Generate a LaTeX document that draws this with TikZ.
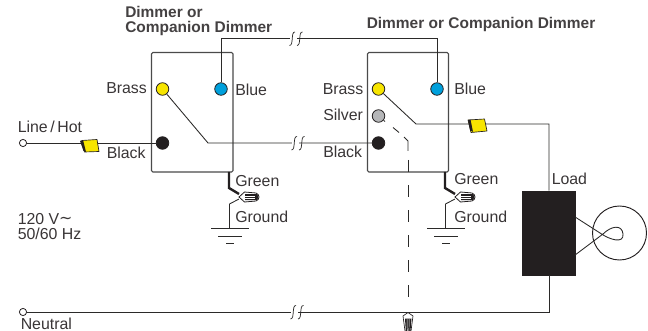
\documentclass[tikz,border=0pt]{standalone}
\usepackage{fontspec}
\setmainfont{Liberation Sans}
\newfontfamily\symfont{DejaVu Sans}
\definecolor{ink}{HTML}{231F20}
\definecolor{wire}{HTML}{2B2A29}
\definecolor{boxc}{HTML}{4A4A4A}
\definecolor{brassc}{HTML}{F7E500}
\definecolor{bluec}{HTML}{00A0DC}
\definecolor{silverc}{HTML}{B5B6B8}
\tikzset{
  lbl/.style={anchor=base west,inner sep=0pt,text=ink!90,font=\fontsize{11.9pt}{13pt}\selectfont},
  head/.style={anchor=base west,inner sep=0pt,text=ink!85,font=\fontsize{11.6pt}{13pt}\selectfont\bfseries},
  term/.style={circle,draw=ink,line width=0.6pt,minimum size=9.4pt,inner sep=0pt},
  open/.style={circle,draw=ink,fill=white,line width=0.6pt,minimum size=5.4pt,inner sep=0pt},
  wr/.style={draw=wire,line width=0.65pt},
  boxl/.style={draw=boxc,line width=0.8pt,rounded corners=1pt},
  thickw/.style={draw=ink,line width=1.8pt},
  dashw/.style={draw=wire,line width=0.65pt},
  connector/.style={fill=brassc,draw=ink,line width=0.5pt,line join=round},
}
\newcommand{\wirebreak}[2]{%
  \fill[white] (#1-2,#2-3) rectangle (#1+5,#2+3);
  \draw[wr,line width=0.55pt] (#1+3,#2-6.5) .. controls (#1-1.5,#2-7) and (#1+2,#2+7) .. (#1-2.5,#2+7);
  \draw[wr,line width=0.55pt] (#1+10.5,#2-6.5) .. controls (#1+6,#2-7) and (#1+9.5,#2+7) .. (#1+5,#2+7);}
\newcommand{\wirenutside}[2]{%
  \draw[ink,line width=0.6pt,fill=white] (#1,#2) -- (#1+5.5,#2-5) -- (#1+17,#2-4) .. controls (#1+21,#2-2.5) and (#1+21,#2+2.5) .. (#1+17,#2+4) -- (#1+5.5,#2+5) -- cycle;
  \fill[ink] (#1+6,#2-3) -- (#1+18,#2-3) .. controls (#1+20,#2-1) and (#1+20,#2+1) .. (#1+18,#2+3) -- (#1+6,#2+3) -- cycle;
  \draw[white,line width=0.4pt] (#1+5.5,#2-1.2) -- (#1+16,#2-1.2) (#1+5.5,#2+1.2) -- (#1+16,#2+1.2);}
\newcommand{\groundsym}[2]{%
  \draw[wr] (#1-19,#2) -- (#1+19,#2);
  \draw[wr] (#1-12,#2+8) -- (#1+12,#2+8);
  \draw[wr] (#1-4,#2+15) -- (#1+4,#2+15);}
\begin{document}
\begin{tikzpicture}[x=0.75pt,y=-0.75pt]
\useasboundingbox (0,0) rectangle (648,331);
% boxes
\draw[boxl] (151.5,172) |- (233,52.5) -- (233,172) -- cycle;
\draw[boxl] (367.5,172) |- (448.5,52.5) -- (448.5,172) -- cycle;
% terminals
\node[term,fill=brassc] (brA) at (162.5,89) {};
\node[term,fill=bluec] (blA) at (221,89) {};
\node[term,fill=ink] (bkA) at (162.5,143) {};
\node[term,fill=brassc] (brB) at (378.5,89) {};
\node[term,fill=bluec] (blB) at (437,89) {};
\node[term,fill=silverc] (siB) at (378.5,116) {};
\node[term,fill=ink] (bkB) at (378.5,143) {};
\node[open] (lineEnd) at (23,143) {};
\node[open] (neutralEnd) at (23,312) {};
% coordinates
\coordinate (jogA) at (208,143);
\coordinate (jogB) at (416,124);
\coordinate (loadX) at (549,124);
\coordinate (neutralX) at (549,312);
% load
\node[draw=ink,fill=ink,minimum width=39.5pt,minimum height=63pt,inner sep=0pt] (load) at (548.5,233) {};
% wires
\draw[wr] (blA) -- (221,38.5) -| (blB);
\draw[wr] (brA) -- (jogA) -- (bkB);
\draw[wr] (lineEnd) -- (bkA);
\draw[wr] (brB) -- (jogB) -- (loadX) -- (load.north -| loadX);
\draw[wr] (neutralEnd) -- (neutralX) -- (load.south -| neutralX);
% dashed switched wire
\draw[dashw] (siB) -- (385,121.5);
\draw[dashw] (393,127.5) -- (399,132.5);
\draw[dashw] (404,137) -- (408,141) -- (408,151);
\draw[dashw,dash pattern=on 9pt off 9.75pt] (408,160) -- (408,308);
% breaks
\wirebreak{292}{38.5}
\wirebreak{294}{143}
\wirebreak{293}{312}
% wire connectors
\draw[connector] (82,140.5) -- (97,139.5) -- (99,151.5) -- (84.5,152) -- cycle;
\fill[ink] (80,141) -- (83,140) -- (86,152) -- (83.5,151) -- cycle;
\draw[connector] (468,120) -- (484.5,119) -- (487,131) -- (471,132.5) -- cycle;
\fill[ink] (468,120) -- (470.5,119.5) -- (473,132) -- (470,130) -- cycle;
% green and ground, left
\draw[thickw] (229,172) -- (229,188) -- (239,194);
\draw[wr] (239,199) -- (229.5,204) -- (229.5,228);
\wirenutside{239}{197}
\groundsym{230}{228}
% green and ground, right
\draw[thickw] (445,172) -- (445,188) -- (455,194);
\draw[wr] (455,199) -- (445.5,204) -- (445.5,228);
\wirenutside{455}{197}
\groundsym{446}{228}
% neutral wire nut
\draw[ink,line width=0.5pt,fill=white] (408,312.5) -- (403,316) -- (405,331) -- (411,331) -- (413,316) -- cycle;
\fill[ink] (405,318.5) -- (411.5,318.5) -- (410.5,331) -- (405.8,331) -- cycle;
\draw[white,line width=0.35pt] (407,319) -- (407.3,331) (409.2,319) -- (408.9,331);
% lamp
\node[circle,draw=ink,line width=0.7pt,minimum size=40.5pt,inner sep=0pt] (lamp) at (619.5,233) {};
\draw[wr] (load.east |- 0,217) -- (600,233) .. controls (610,240) and (624,244) .. (623,234) .. controls (622,224) and (611,226) .. (603,234) -- (load.east |- 0,255);
% labels
\node[head] (h1a) at (125,18) {Dimmer or};
\node[head] (h1b) at (125,33) {Companion Dimmer};
\node[head] (h2) at (366.5,28.5) {Dimmer or Companion Dimmer};
\node[lbl] (t1) at (106,94) {Brass};
\node[lbl] (t2) at (235,96) {Blue};
\node[lbl] (t3) at (17.5,133) {Line\,/\,Hot};
\node[lbl] (t4) at (106.5,159) {Black};
\node[lbl] (t5) at (235,186.5) {Green};
\node[lbl] (t6) at (235,222) {Ground};
\node[lbl] (t7) at (17.5,224) {120 V{\symfont\raisebox{0.5pt}{∼}}};
\node[lbl] (t8) at (17.5,239) {50/60 Hz};
\node[lbl] (t9) at (20.5,329.5) {Neutral};
\node[lbl] (t10) at (322.5,95) {Brass};
\node[lbl] (t11) at (454,95) {Blue};
\node[lbl] (t12) at (323,121) {Silver};
\node[lbl] (t13) at (323,157.5) {Black};
\node[lbl] (t14) at (454,185) {Green};
\node[lbl] (t15) at (454,222) {Ground};
\node[lbl] (t16) at (551.5,185) {Load};
\end{tikzpicture}
\end{document}
